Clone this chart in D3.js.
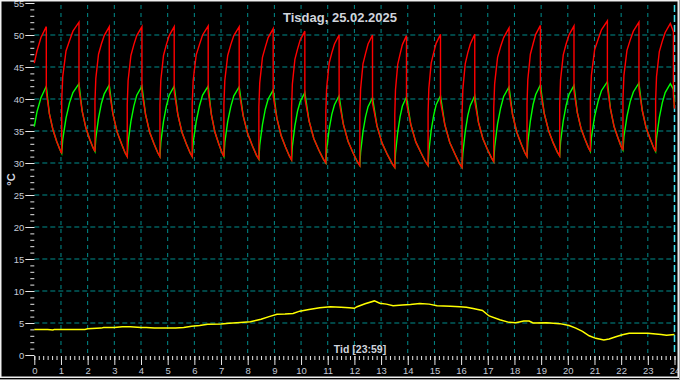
<!DOCTYPE html>
<html><head><meta charset="utf-8">
<script src="https://cdn.jsdelivr.net/npm/d3@7"></script>
<style>html,body{margin:0;padding:0;background:#000;overflow:hidden}</style>
</head><body><svg id="c" width="680" height="380"></svg>
<script>
const titleText = "Tisdag, 25.02.2025";
const xTitle = "Tid [23:59]";
const yTitle = "°C";
const xTicks = d3.range(0, 25);           // hours 0..24
const yTicks = [0,5,10,15,20,25,30,35,40,45,50,55];

// time (h) shared by the supply (red) and return (green) series
const hours = [
0, 0.1, 0.25, 0.45, 0.45, 0.565, 0.698, 0.837, 0.958,
1.027, 1.027, 1.066, 1.189, 1.319, 1.448, 1.675, 1.675, 1.795, 1.933, 2.076, 2.202,
2.274, 2.274, 2.306, 2.408, 2.515, 2.622, 2.810, 2.810, 2.945, 3.100, 3.262, 3.403,
3.484, 3.484, 3.517, 3.622, 3.732, 3.842, 4.035, 4.035, 4.170, 4.325, 4.487, 4.629,
4.710, 4.710, 4.742, 4.844, 4.951, 5.058, 5.245, 5.245, 5.380, 5.535, 5.697, 5.839,
5.920, 5.920, 5.956, 6.070, 6.190, 6.309, 6.519, 6.519, 6.637, 6.772, 6.914, 7.037,
7.108, 7.108, 7.142, 7.251, 7.366, 7.480, 7.681, 7.681, 7.829, 7.998, 8.175, 8.330,
8.419, 8.419, 8.451, 8.553, 8.660, 8.767, 8.955, 8.955, 9.093, 9.251, 9.417, 9.561,
9.644, 9.644, 9.674, 9.769, 9.868, 9.968, 10.142, 10.142, 10.299, 10.480, 10.669, 10.835,
10.929, 10.929, 10.959, 11.054, 11.153, 11.253, 11.427, 11.427, 11.582, 11.761, 11.947, 12.110,
12.203, 12.203, 12.232, 12.322, 12.417, 12.512, 12.679, 12.679, 12.846, 13.038, 13.238, 13.414,
13.514, 13.514, 13.540, 13.624, 13.712, 13.799, 13.953, 13.953, 14.115, 14.301, 14.495, 14.665,
14.762, 14.762, 14.790, 14.878, 14.971, 15.064, 15.227, 15.227, 15.389, 15.575, 15.769, 15.939,
16.036, 16.036, 16.065, 16.155, 16.250, 16.345, 16.512, 16.512, 16.654, 16.818, 16.989, 17.139,
17.224, 17.224, 17.258, 17.367, 17.482, 17.596, 17.797, 17.797, 17.932, 18.087, 18.249, 18.390,
18.471, 18.471, 18.501, 18.597, 18.697, 18.797, 18.973, 18.973, 19.118, 19.284, 19.457, 19.609,
19.696, 19.696, 19.728, 19.830, 19.937, 20.044, 20.232, 20.232, 20.355, 20.496, 20.644, 20.773,
20.847, 20.847, 20.885, 21.006, 21.134, 21.261, 21.484, 21.484, 21.601, 21.735, 21.875, 21.998,
22.068, 22.068, 22.104, 22.218, 22.338, 22.457, 22.667, 22.667, 22.792, 22.936, 23.086, 23.218,
23.293, 23.293, 23.326, 23.431, 23.541, 23.651, 23.844, 23.96, 23.96, 24
];
const supplyTemp = [
45.6, 47.5, 49.6, 51.3, 41.1, 37.7, 35.2, 33.4, 32.1,
31.5, 39.7, 43.5, 47.5, 49.1, 50.6, 52.0, 41.5, 38.1, 35.5, 33.7, 32.4,
31.8, 39.6, 43.2, 47.0, 48.6, 49.9, 51.3, 41.3, 37.7, 34.9, 33.1, 31.6,
31.0, 39.1, 42.9, 46.8, 48.5, 49.9, 51.3, 41.1, 37.6, 34.8, 33.0, 31.6,
31.0, 39.1, 42.9, 46.8, 48.5, 49.9, 51.3, 41.1, 37.6, 34.8, 33.0, 31.6,
31.0, 39.2, 42.9, 46.9, 48.5, 50.0, 51.4, 41.1, 37.6, 34.8, 33.0, 31.6,
31.0, 39.1, 42.9, 46.8, 48.5, 49.9, 51.3, 41.0, 37.4, 34.6, 32.7, 31.2,
30.6, 38.8, 42.5, 46.5, 48.1, 49.6, 51.0, 40.5, 37.0, 34.3, 32.5, 31.1,
30.5, 38.5, 42.3, 46.2, 47.8, 49.2, 50.6, 40.1, 36.6, 33.8, 32.0, 30.6,
30.0, 38.0, 41.7, 45.6, 47.2, 48.6, 50.0, 39.6, 36.1, 33.4, 31.6, 30.2,
29.6, 37.8, 41.5, 45.5, 47.1, 48.6, 50.0, 39.3, 35.8, 33.1, 31.3, 29.9,
29.3, 37.5, 41.4, 45.4, 47.0, 48.5, 49.9, 39.4, 36.0, 33.3, 31.6, 30.2,
29.6, 37.8, 41.6, 45.6, 47.2, 48.7, 50.1, 39.6, 36.0, 33.2, 31.4, 29.9,
29.3, 37.6, 41.5, 45.5, 47.2, 48.6, 50.1, 39.6, 36.3, 33.8, 32.1, 30.8,
30.2, 38.6, 42.4, 46.5, 48.2, 49.6, 51.1, 41.0, 37.5, 34.8, 33.0, 31.6,
31.0, 39.2, 43.0, 47.0, 48.6, 50.1, 51.5, 41.3, 37.7, 35.0, 33.1, 31.7,
31.1, 39.2, 43.0, 46.9, 48.6, 50.0, 51.4, 41.2, 37.9, 35.4, 33.7, 32.4,
31.8, 40.0, 43.7, 47.7, 49.3, 50.8, 52.2, 41.8, 38.4, 35.7, 34.0, 32.6,
32.0, 40.0, 43.7, 47.6, 49.2, 50.6, 52.0, 41.6, 38.2, 35.5, 33.8, 32.4,
31.8, 39.8, 43.5, 47.4, 49.0, 50.4, 51.8, 50.5, 40.5, 38.5
];
const returnTemp = [
35.7, 38.0, 40.2, 42.0, 42.0, 37.7, 35.2, 33.4, 32.1,
31.5, 31.5, 33.7, 37.0, 39.4, 41.0, 42.4, 42.4, 38.1, 35.5, 33.7, 32.4,
31.8, 31.8, 33.9, 37.0, 39.3, 40.8, 42.2, 42.2, 37.7, 34.9, 33.1, 31.6,
31.0, 31.0, 33.2, 36.5, 38.9, 40.6, 42.0, 42.0, 37.6, 34.8, 33.0, 31.6,
31.0, 31.0, 33.2, 36.5, 38.9, 40.6, 42.0, 42.0, 37.6, 34.8, 33.0, 31.6,
31.0, 31.0, 33.2, 36.5, 38.9, 40.6, 42.0, 42.0, 37.6, 34.8, 33.0, 31.6,
31.0, 31.0, 33.2, 36.5, 38.8, 40.5, 41.9, 41.9, 37.4, 34.6, 32.7, 31.2,
30.6, 30.6, 32.8, 36.0, 38.4, 40.0, 41.4, 41.4, 37.0, 34.3, 32.5, 31.1,
30.5, 30.5, 32.6, 35.8, 38.1, 39.6, 41.0, 41.0, 36.6, 33.8, 32.0, 30.6,
30.0, 30.0, 32.1, 35.3, 37.6, 39.1, 40.5, 40.5, 36.1, 33.4, 31.6, 30.2,
29.6, 29.6, 31.7, 34.9, 37.2, 38.8, 40.2, 40.2, 35.8, 33.1, 31.3, 29.9,
29.3, 29.3, 31.5, 34.8, 37.2, 38.9, 40.3, 40.3, 36.0, 33.3, 31.6, 30.2,
29.6, 29.6, 31.8, 35.1, 37.4, 39.1, 40.5, 40.5, 36.0, 33.2, 31.4, 29.9,
29.3, 29.3, 31.5, 34.9, 37.4, 39.0, 40.5, 40.5, 36.3, 33.8, 32.1, 30.8,
30.2, 30.2, 32.5, 36.1, 38.6, 40.4, 41.9, 41.9, 37.5, 34.8, 33.0, 31.6,
31.0, 31.0, 33.2, 36.6, 39.1, 40.7, 42.2, 42.2, 37.7, 35.0, 33.1, 31.7,
31.1, 31.1, 33.3, 36.6, 39.0, 40.7, 42.1, 42.1, 37.9, 35.4, 33.7, 32.4,
31.8, 31.8, 34.0, 37.3, 39.6, 41.3, 42.7, 42.7, 38.4, 35.7, 34.0, 32.6,
32.0, 32.0, 34.1, 37.3, 39.6, 41.1, 42.5, 42.5, 38.2, 35.5, 33.8, 32.4,
31.8, 31.8, 33.9, 37.1, 39.4, 41.0, 42.4, 41.5, 41.5, 38.6
];
// outdoor temperature (yellow)
const outTime = [0,0.5,0.7,0.75,1.5,1.9,2.0,2.5,2.6,3.0,3.3,3.6,4.0,4.2,4.5,4.9,5.3,5.6,5.9,6.2,6.5,7.0,7.3,7.6,8.1,8.3,8.5,8.8,9.1,9.4,9.7,9.95,10.3,10.7,11.1,11.5,11.8,12.0,12.1,12.4,12.75,12.95,13.2,13.45,13.8,14.1,14.45,14.8,15.1,15.6,15.95,16.2,16.45,16.8,17.05,17.45,17.8,18.05,18.35,18.55,18.7,19.2,19.7,20.05,20.3,20.55,20.8,21.05,21.35,21.55,21.8,22.05,22.3,23.0,23.5,23.7,24.0];
const outTemp = [4.0,4.0,3.9,4.0,4.0,4.0,4.1,4.2,4.3,4.3,4.4,4.4,4.3,4.3,4.2,4.2,4.2,4.3,4.5,4.6,4.8,4.85,4.95,5.05,5.2,5.4,5.6,6.0,6.35,6.4,6.5,6.85,7.1,7.4,7.55,7.45,7.4,7.3,7.55,8.0,8.45,8.1,7.95,7.7,7.8,7.9,8.05,7.95,7.7,7.6,7.55,7.45,7.25,6.95,6.1,5.5,5.1,5.05,5.3,5.3,5.0,5.05,4.9,4.6,4.2,3.7,3.0,2.6,2.35,2.5,2.85,3.15,3.4,3.4,3.2,3.1,3.2];

const svg = d3.select("#c");
const x = d3.scaleLinear().domain([0, 24]).range([34.3, 674.5]);
const y = d3.scaleLinear().domain([0, 55]).range([355, 3]);
const font = "'Liberation Sans', Arial, sans-serif";
const labelColor = "#c4cad6";

svg.append("rect").attr("width", 680).attr("height", 380).attr("fill", "#000");

// grid
const grid = svg.append("g");
grid.selectAll("line.v").data(xTicks.filter(d => d > 0 && d < 24)).join("line")
  .attr("x1", d => x(d)).attr("x2", d => x(d)).attr("y1", 5).attr("y2", y(0))
  .attr("stroke", "#008c8c").attr("stroke-width", 1).attr("stroke-dasharray", "4,4");
grid.append("line").attr("x1", x(24)).attr("x2", x(24)).attr("y1", 5).attr("y2", y(0))
  .attr("stroke", "#40e4f0").attr("stroke-width", 1.5).attr("stroke-dasharray", "7,3");
grid.selectAll("line.h").data(yTicks.filter(d => d > 0 && d < 55)).join("line")
  .attr("x1", x(0)).attr("x2", x(24)).attr("y1", d => y(d)).attr("y2", d => y(d))
  .attr("stroke", "#008c8c").attr("stroke-width", 1).attr("stroke-dasharray", "5,3");

// axes
function styleAxis(g) {
  g.select(".domain").remove();
  g.selectAll("line").attr("stroke", "#e8e8e8");
  g.selectAll("text").attr("fill", labelColor).attr("font-family", font).attr("font-size", "9.5px");
}
svg.append("g").attr("transform", `translate(${x(0)},0)`)
  .call(d3.axisLeft(y).tickValues(d3.range(0, 56, 1)).tickSize(4).tickFormat(""))
  .call(styleAxis);
svg.append("g").attr("transform", `translate(${x(0)},0)`)
  .call(d3.axisLeft(y).tickValues(yTicks).tickSize(9).tickPadding(1).tickFormat(d3.format("d")))
  .call(styleAxis);
svg.append("g").attr("transform", `translate(0,${y(0) + 1})`)
  .call(d3.axisBottom(x).tickValues(d3.range(0, 24.01, 1/6)).tickSize(4).tickFormat(""))
  .call(styleAxis);
svg.append("g").attr("transform", `translate(0,${y(0) + 1})`)
  .call(d3.axisBottom(x).tickValues(xTicks).tickSize(9).tickPadding(2).tickFormat(d3.format("d")))
  .call(styleAxis);

// series
const n = Math.min(hours.length, supplyTemp.length, returnTemp.length);
const idx = d3.range(n);
const line = (vals) => d3.line().x(i => x(hours[i])).y(i => y(vals[i]));
svg.append("path").datum(idx).attr("d", line(returnTemp))
  .attr("fill", "none").attr("stroke", "#00ff00").attr("stroke-width", 1.4);
svg.append("path").datum(idx).attr("d", line(supplyTemp))
  .attr("fill", "none").attr("stroke", "#ff0000").attr("stroke-width", 1.4);
svg.append("path").datum(d3.range(outTime.length))
  .attr("d", d3.line().x(i => x(outTime[i])).y(i => y(outTemp[i])))
  .attr("fill", "none").attr("stroke", "#ffff00").attr("stroke-width", 1.5);

// texts
svg.append("text").attr("x", 340).attr("y", 22).attr("text-anchor", "middle")
  .attr("font-family", font).attr("font-size", "13px").attr("font-weight", "bold").attr("fill", "#d0d4dc").text(titleText);
svg.append("text").attr("x", 360).attr("y", 352.5).attr("text-anchor", "middle")
  .attr("font-family", font).attr("font-size", "10.5px").attr("font-weight", "bold").attr("fill", "#d0d4dc").text(xTitle);
svg.append("text").attr("transform", "translate(15,179.5) rotate(-90)").attr("text-anchor", "middle")
  .attr("font-family", font).attr("font-size", "11px").attr("font-weight", "bold").attr("fill", "#d4d8e0").text(yTitle);

// frame
svg.append("rect").attr("x", 0.75).attr("y", 0.75).attr("width", 677.5).attr("height", 376.5)
  .attr("fill", "none").attr("stroke", "#f0f0f0").attr("stroke-width", 1.5);
svg.append("line").attr("x1", 0).attr("x2", 680).attr("y1", 379.5).attr("y2", 379.5).attr("stroke", "#a0a0a0");
svg.append("line").attr("x1", 679.5).attr("x2", 679.5).attr("y1", 0).attr("y2", 380).attr("stroke", "#a0a0a0");
</script>
</body></html>
